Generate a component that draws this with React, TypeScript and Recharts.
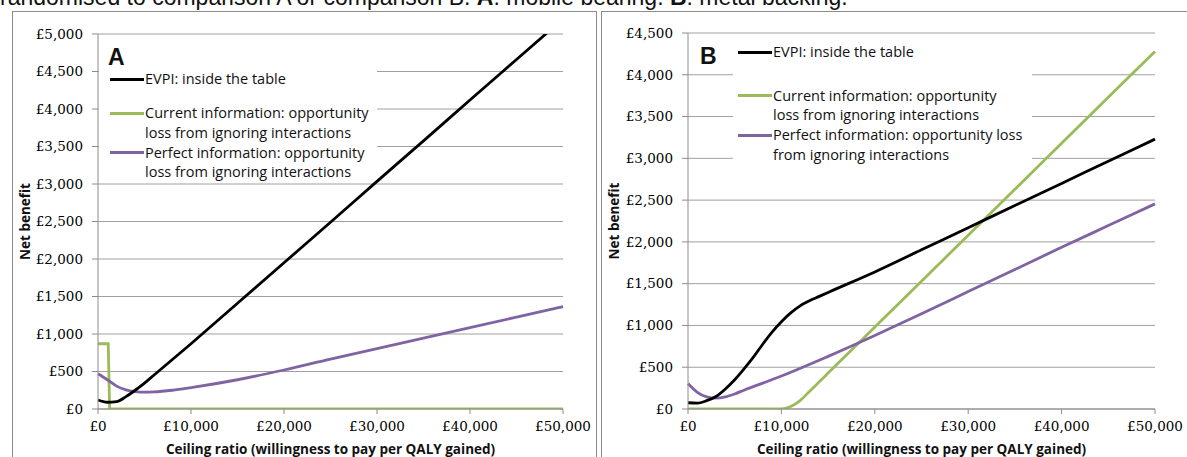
import React from 'react'
import { LineChart, Line, XAxis, YAxis, CartesianGrid, Label } from 'recharts'

// ceiling ratio (£ per QALY)
const ratios = [0, 1000, 2000, 3000, 4000, 5000, 6000, 8000, 10000, 15000, 20000, 25000, 30000, 35000, 40000, 45000, 50000]
const ratiosB = [0, 1000, 2000, 3000, 4000, 5000, 6000, 7000, 8000, 9000, 10000, 11000, 12000, 13000, 14000, 15000, 20000, 25000, 30000, 35000, 40000, 45000, 50000]

// panel A: mobile bearing
const evpiA = [120, 90, 98, 165, 250, 345, 450, 660, 870, 1410, 1950, 2490, 3035, 3575, 4120, 4660, 5200]
const perfectA = [470, 390, 305, 255, 232, 225, 228, 250, 285, 390, 520, 665, 805, 945, 1085, 1225, 1365]
const currentRatiosA = [0, 1100, 1250, 50000]
const currentA = [870, 870, 0, 0]

// panel B: metal backing
const evpiB = [75, 70, 100, 150, 240, 350, 480, 620, 775, 920, 1045, 1150, 1235, 1295, 1345, 1395, 1640, 1905, 2170, 2435, 2700, 2965, 3230]
const currentB = [0, 0, 0, 0, 0, 0, 0, 0, 0, 0, 0, 30, 100, 210, 320, 430, 980, 1530, 2080, 2630, 3180, 3730, 4280]
const perfectRatiosB = [0, 1000, 2000, 3000, 4000, 5000, 6000, 8000, 10000, 15000, 20000, 25000, 30000, 35000, 40000, 45000, 50000]
const perfectB = [305, 200, 145, 130, 145, 180, 225, 310, 395, 630, 880, 1140, 1405, 1670, 1935, 2195, 2455]

const xTicks = [0, 10000, 20000, 30000, 40000, 50000]
const yTicksA = [0, 500, 1000, 1500, 2000, 2500, 3000, 3500, 4000, 4500, 5000]
const yTicksB = [0, 500, 1000, 1500, 2000, 2500, 3000, 3500, 4000, 4500]

const BLACK = '#000000'
const GREEN = '#9BBB59'
const PURPLE = '#8064A2'
const GRID = '#a0a0a0'
const AXIS = '#8c8c8c'
const SANS = '"Open Sans", Lato, sans-serif'
const SERIF = '"DejaVu Serif", "Liberation Serif", serif'

function toPoints(xs: number[], ys: number[]) {
  return xs.map((x, i) => ({ ratio: x, value: ys[i] }))
}

function pounds(v: number): string {
  return '£' + String(v).replace(/\B(?=(\d{3})+(?!\d))/g, ',')
}

const tickStyle = { fontSize: 13.5, fill: '#000', fontFamily: SERIF }

interface Series {
  name: string
  color: string
  points: { ratio: number; value: number }[]
  type: 'monotone' | 'linear'
}

function Panel({ left, yAxisWidth, plotWidth, top, yMax, yTicks, series }: {
  left: number
  yAxisWidth: number
  plotWidth: number
  top: number
  yMax: number
  yTicks: number[]
  series: Series[]
}) {
  const width = 585
  return (
    <div style={{ position: 'absolute', left, top: 12 }}>
      <LineChart
        width={width}
        height={445}
        margin={{ top, right: width - yAxisWidth - plotWidth, left: 0, bottom: 0 }}
      >
        <CartesianGrid horizontal vertical={false} stroke={GRID} />
        <XAxis
          dataKey="ratio"
          type="number"
          domain={[0, 50000]}
          ticks={xTicks}
          tickFormatter={pounds}
          tick={tickStyle}
          stroke={AXIS}
          tickSize={5}
          tickMargin={7}
          height={48}
          allowDuplicatedCategory={false}
        >
          <Label
            value="Ceiling ratio (willingness to pay per QALY gained)"
            position="insideBottom"
            offset={3}
            style={{ fontFamily: SANS, fontWeight: 700, fontSize: 13.5, fill: '#111' }}
          />
        </XAxis>
        <YAxis
          type="number"
          domain={[0, yMax]}
          ticks={yTicks}
          allowDataOverflow
          tickFormatter={pounds}
          tick={tickStyle}
          stroke={AXIS}
          tickSize={6}
          tickMargin={9}
          width={yAxisWidth}
        >
          <Label
            value="Net benefit"
            angle={-90}
            position="insideLeft"
            offset={12}
            style={{ textAnchor: 'middle', fontFamily: SANS, fontWeight: 700, fontSize: 13.5, fill: '#111' }}
          />
        </YAxis>
        {series.map((s) => (
          <Line
            key={s.name}
            data={s.points}
            dataKey="value"
            type={s.type}
            stroke={s.color}
            strokeWidth={2.8}
            dot={false}
            isAnimationActive={false}
          />
        ))}
      </LineChart>
    </div>
  )
}

// one legend entry; y is the centre of its first text line
function LegendRow({ x, y, color, lines }: { x: number; y: number; color: string; lines: string[] }) {
  return (
    <div style={{ position: 'absolute', left: x, top: y - 9.75, fontFamily: SANS, fontSize: 14.5, lineHeight: '19.5px', color: '#111' }}>
      <div style={{ position: 'absolute', left: 0, top: 8.25, width: 34, height: 3, background: color }} />
      <div style={{ marginLeft: 35, whiteSpace: 'nowrap' }}>
        {lines.map((t) => (
          <div key={t}>{t}</div>
        ))}
      </div>
    </div>
  )
}

function Letter({ x, y, text }: { x: number; y: number; text: string }) {
  return (
    <div style={{ position: 'absolute', left: x, top: y, fontFamily: '"Liberation Sans", Arial, sans-serif', fontWeight: 700, fontSize: 23, lineHeight: '23px', color: '#111' }}>
      {text}
    </div>
  )
}

export default function App() {
  const seriesA: Series[] = [
    { name: 'current', color: GREEN, points: toPoints(currentRatiosA, currentA), type: 'linear' },
    { name: 'perfect', color: PURPLE, points: toPoints(ratios, perfectA), type: 'monotone' },
    { name: 'evpi', color: BLACK, points: toPoints(ratios, evpiA), type: 'monotone' },
  ]
  const seriesB: Series[] = [
    { name: 'current', color: GREEN, points: toPoints(ratiosB, currentB), type: 'monotone' },
    { name: 'perfect', color: PURPLE, points: toPoints(perfectRatiosB, perfectB), type: 'monotone' },
    { name: 'evpi', color: BLACK, points: toPoints(ratiosB, evpiB), type: 'monotone' },
  ]

  return (
    <div style={{ position: 'absolute', left: 0, top: 0, width: 1187, height: 457, overflow: 'hidden', background: '#fff' }}>
      <div style={{ position: 'absolute', left: 0, top: -14.5, fontFamily: '"Liberation Sans", Arial, sans-serif', fontSize: 23, lineHeight: '23px', color: '#111', whiteSpace: 'nowrap' }}>
        randomised to comparison A or comparison B. <b>A</b>: mobile bearing. <b>B</b>: metal backing.
      </div>

      <div style={{ position: 'absolute', left: 12, top: 11, width: 585, height: 470, border: '1px solid #8c8c8c', boxSizing: 'border-box' }} />
      <div style={{ position: 'absolute', left: 601, top: 11, width: 600, height: 470, border: '1px solid #8c8c8c', boxSizing: 'border-box' }} />

      <Panel left={13} yAxisWidth={85} plotWidth={465} top={22} yMax={5000} yTicks={yTicksA} series={seriesA} />
      <Panel left={602} yAxisWidth={86} plotWidth={467} top={21} yMax={4500} yTicks={yTicksB} series={seriesB} />

      {/* legend A */}
      <div style={{ position: 'absolute', left: 99, top: 40, width: 278, height: 138, background: '#fff' }} />
      <Letter x={108} y={46} text="A" />
      <LegendRow x={110} y={79} color={BLACK} lines={['EVPI: inside the table']} />
      <LegendRow x={110} y={113} color={GREEN} lines={['Current information: opportunity', 'loss from ignoring interactions']} />
      <LegendRow x={110} y={152.5} color={PURPLE} lines={['Perfect information: opportunity', 'loss from ignoring interactions']} />

      {/* legend B */}
      <div style={{ position: 'absolute', left: 733, top: 40, width: 299, height: 128, background: '#fff' }} />
      <Letter x={700} y={45} text="B" />
      <LegendRow x={738} y={52} color={BLACK} lines={['EVPI: inside the table']} />
      <LegendRow x={738} y={95.5} color={GREEN} lines={['Current information: opportunity', 'loss from ignoring interactions']} />
      <LegendRow x={738} y={135} color={PURPLE} lines={['Perfect information: opportunity loss', 'from ignoring interactions']} />
    </div>
  )
}
